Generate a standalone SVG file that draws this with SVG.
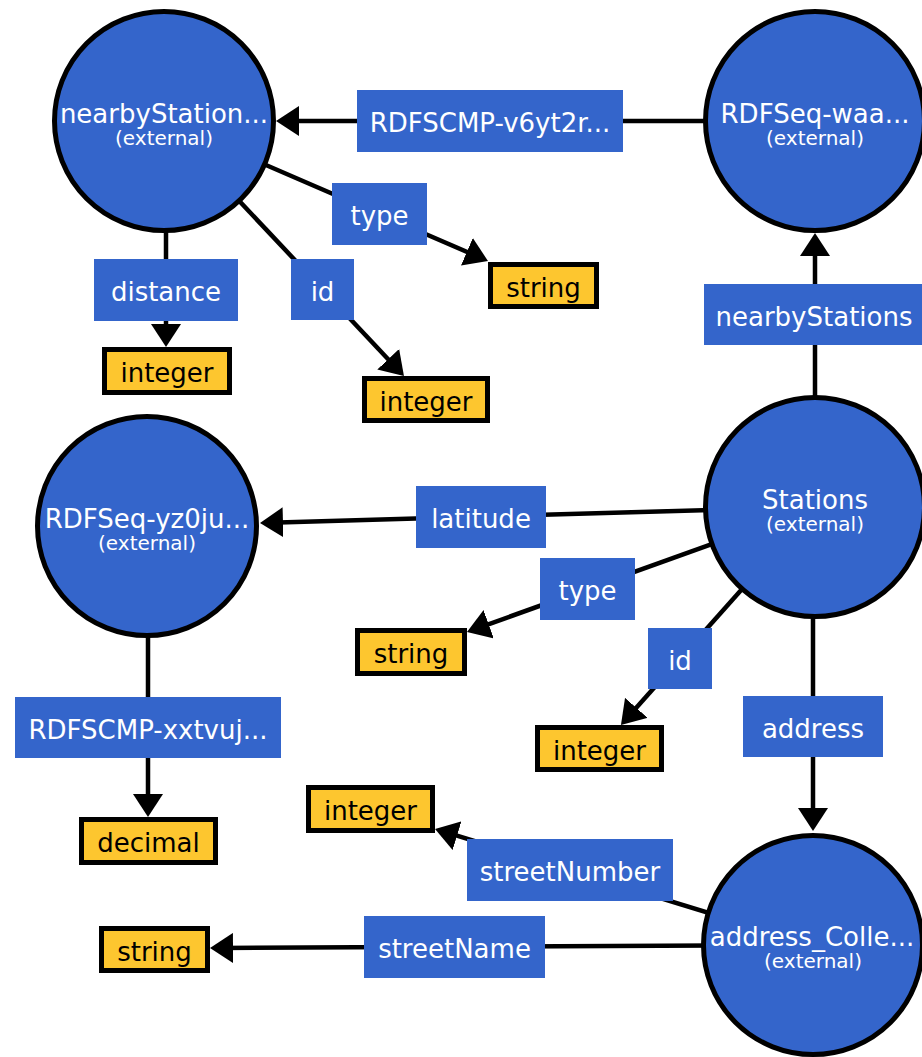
<svg xmlns="http://www.w3.org/2000/svg" width="922" height="1057" viewBox="0 0 922 1057">
<style>
  .node circle { fill: #3465cb; stroke: #000; stroke-width: 5; }
  .nt { font-family: "DejaVu Sans", "Liberation Sans", sans-serif; font-size: 26px; fill: #fff; text-anchor: middle; }
  .ext { font-family: "DejaVu Sans", "Liberation Sans", sans-serif; font-size: 20px; fill: #fff; text-anchor: middle; }
  .lbl rect { fill: #3465cb; }
  .lt { font-family: "DejaVu Sans", "Liberation Sans", sans-serif; font-size: 26px; fill: #fff; text-anchor: middle; }
  .lit rect { fill: #fdc62f; stroke: #000; stroke-width: 5; }
  .yt { font-family: "DejaVu Sans", "Liberation Sans", sans-serif; font-size: 26px; fill: #000; text-anchor: middle; }
  .edge { fill: none; stroke: #000; stroke-width: 4.5; marker-end: url(#arrow); }
</style>
<defs>
  <marker id="arrow" markerUnits="userSpaceOnUse" markerWidth="23" markerHeight="30" refX="13" refY="15" orient="auto" viewBox="0 0 23 30">
    <path d="M0,0 L23,15 L0,30 z" fill="#000"/>
  </marker>
</defs>
<rect x="0" y="0" width="922" height="1057" fill="#fff"/>

<g id="connectors">
  <path class="edge" d="M815,121 L286,121"/>
  <path class="edge" d="M164,121 L478.8,257"/>
  <path class="edge" d="M166,121 L166,337"/>
  <path class="edge" d="M164,121 L397.1,368.7"/>
  <path class="edge" d="M815,507 L815,243"/>
  <path class="edge" d="M815,507 L270,522.7"/>
  <path class="edge" d="M815,507 L476.4,628.6"/>
  <path class="edge" d="M815,507 L627.6,717.5"/>
  <path class="edge" d="M813,507 L813,821"/>
  <path class="edge" d="M148,526 L148,807"/>
  <path class="edge" d="M813,945 L444.6,831.9"/>
  <path class="edge" d="M813,945 L220,948"/>
</g>

<g id="edge-labels">
  <g id="lbl-rdfscmp-v6yt2r" class="lbl"><rect x="357" y="90" width="266" height="62"/><text class="lt" x="490" y="132">RDFSCMP-v6yt2r...</text></g>
  <g id="lbl-type-a" class="lbl"><rect x="332" y="183" width="95" height="62"/><text class="lt" x="379.5" y="225">type</text></g>
  <g id="lbl-distance" class="lbl"><rect x="94" y="259" width="144" height="62"/><text class="lt" x="166" y="301">distance</text></g>
  <g id="lbl-id-a" class="lbl"><rect x="291" y="259" width="63" height="61"/><text class="lt" x="322.5" y="301">id</text></g>
  <g id="lbl-nearbystations" class="lbl"><rect x="704" y="284" width="218" height="61"/><text class="lt" x="814" y="326">nearbyStations</text></g>
  <g id="lbl-latitude" class="lbl"><rect x="416" y="486" width="130" height="62"/><text class="lt" x="481" y="528">latitude</text></g>
  <g id="lbl-type-c" class="lbl"><rect x="540" y="558" width="95" height="62"/><text class="lt" x="587.5" y="600">type</text></g>
  <g id="lbl-id-c" class="lbl"><rect x="648" y="628" width="64" height="61"/><text class="lt" x="680" y="670">id</text></g>
  <g id="lbl-address" class="lbl"><rect x="743" y="696" width="140" height="61"/><text class="lt" x="813" y="738">address</text></g>
  <g id="lbl-rdfscmp-xxtvuj" class="lbl"><rect x="15" y="697" width="266" height="61"/><text class="lt" x="148" y="739">RDFSCMP-xxtvuj...</text></g>
  <g id="lbl-streetnumber" class="lbl"><rect x="467" y="839" width="206" height="62"/><text class="lt" x="570" y="881">streetNumber</text></g>
  <g id="lbl-streetname" class="lbl"><rect x="364" y="916" width="181" height="62"/><text class="lt" x="454.5" y="958">streetName</text></g>
</g>

<g id="node-nearbystation" class="node"><circle cx="164" cy="121" r="109.5"/><text class="nt" x="164" y="123">nearbyStation...</text><text class="ext" x="164" y="145">(external)</text></g>
<g id="node-rdfseq-waa" class="node"><circle cx="815" cy="121" r="109.5"/><text class="nt" x="815" y="123">RDFSeq-waa...</text><text class="ext" x="815" y="145">(external)</text></g>
<g id="node-stations" class="node"><circle cx="815" cy="507" r="109.5"/><text class="nt" x="815" y="509">Stations</text><text class="ext" x="815" y="531">(external)</text></g>
<g id="node-rdfseq-yz0ju" class="node"><circle cx="147" cy="526" r="109.5"/><text class="nt" x="147" y="528">RDFSeq-yz0ju...</text><text class="ext" x="147" y="550">(external)</text></g>
<g id="node-address-colle" class="node"><circle cx="813" cy="945" r="109.5"/><text class="nt" x="812" y="946">address_Colle...</text><text class="ext" x="813" y="968">(external)</text></g>

<g id="lit-integer-distance" class="lit"><rect x="104.5" y="349.5" width="125" height="43"/><text class="yt" x="167" y="382">integer</text></g>
<g id="lit-string-type-a" class="lit"><rect x="490.5" y="264.5" width="106" height="42"/><text class="yt" x="543.5" y="297">string</text></g>
<g id="lit-integer-id-a" class="lit"><rect x="364.5" y="378.5" width="123" height="42"/><text class="yt" x="426" y="411">integer</text></g>
<g id="lit-string-type-c" class="lit"><rect x="357.5" y="630.5" width="107" height="43"/><text class="yt" x="411" y="663">string</text></g>
<g id="lit-integer-id-c" class="lit"><rect x="537.5" y="727.5" width="124" height="42"/><text class="yt" x="599.5" y="760">integer</text></g>
<g id="lit-decimal" class="lit"><rect x="81.5" y="819.5" width="134" height="43"/><text class="yt" x="148.5" y="852">decimal</text></g>
<g id="lit-integer-streetnumber" class="lit"><rect x="308.5" y="787.5" width="124" height="43"/><text class="yt" x="370.5" y="820">integer</text></g>
<g id="lit-string-streetname" class="lit"><rect x="101.5" y="928.5" width="106" height="42"/><text class="yt" x="154.5" y="961">string</text></g>
</svg>
